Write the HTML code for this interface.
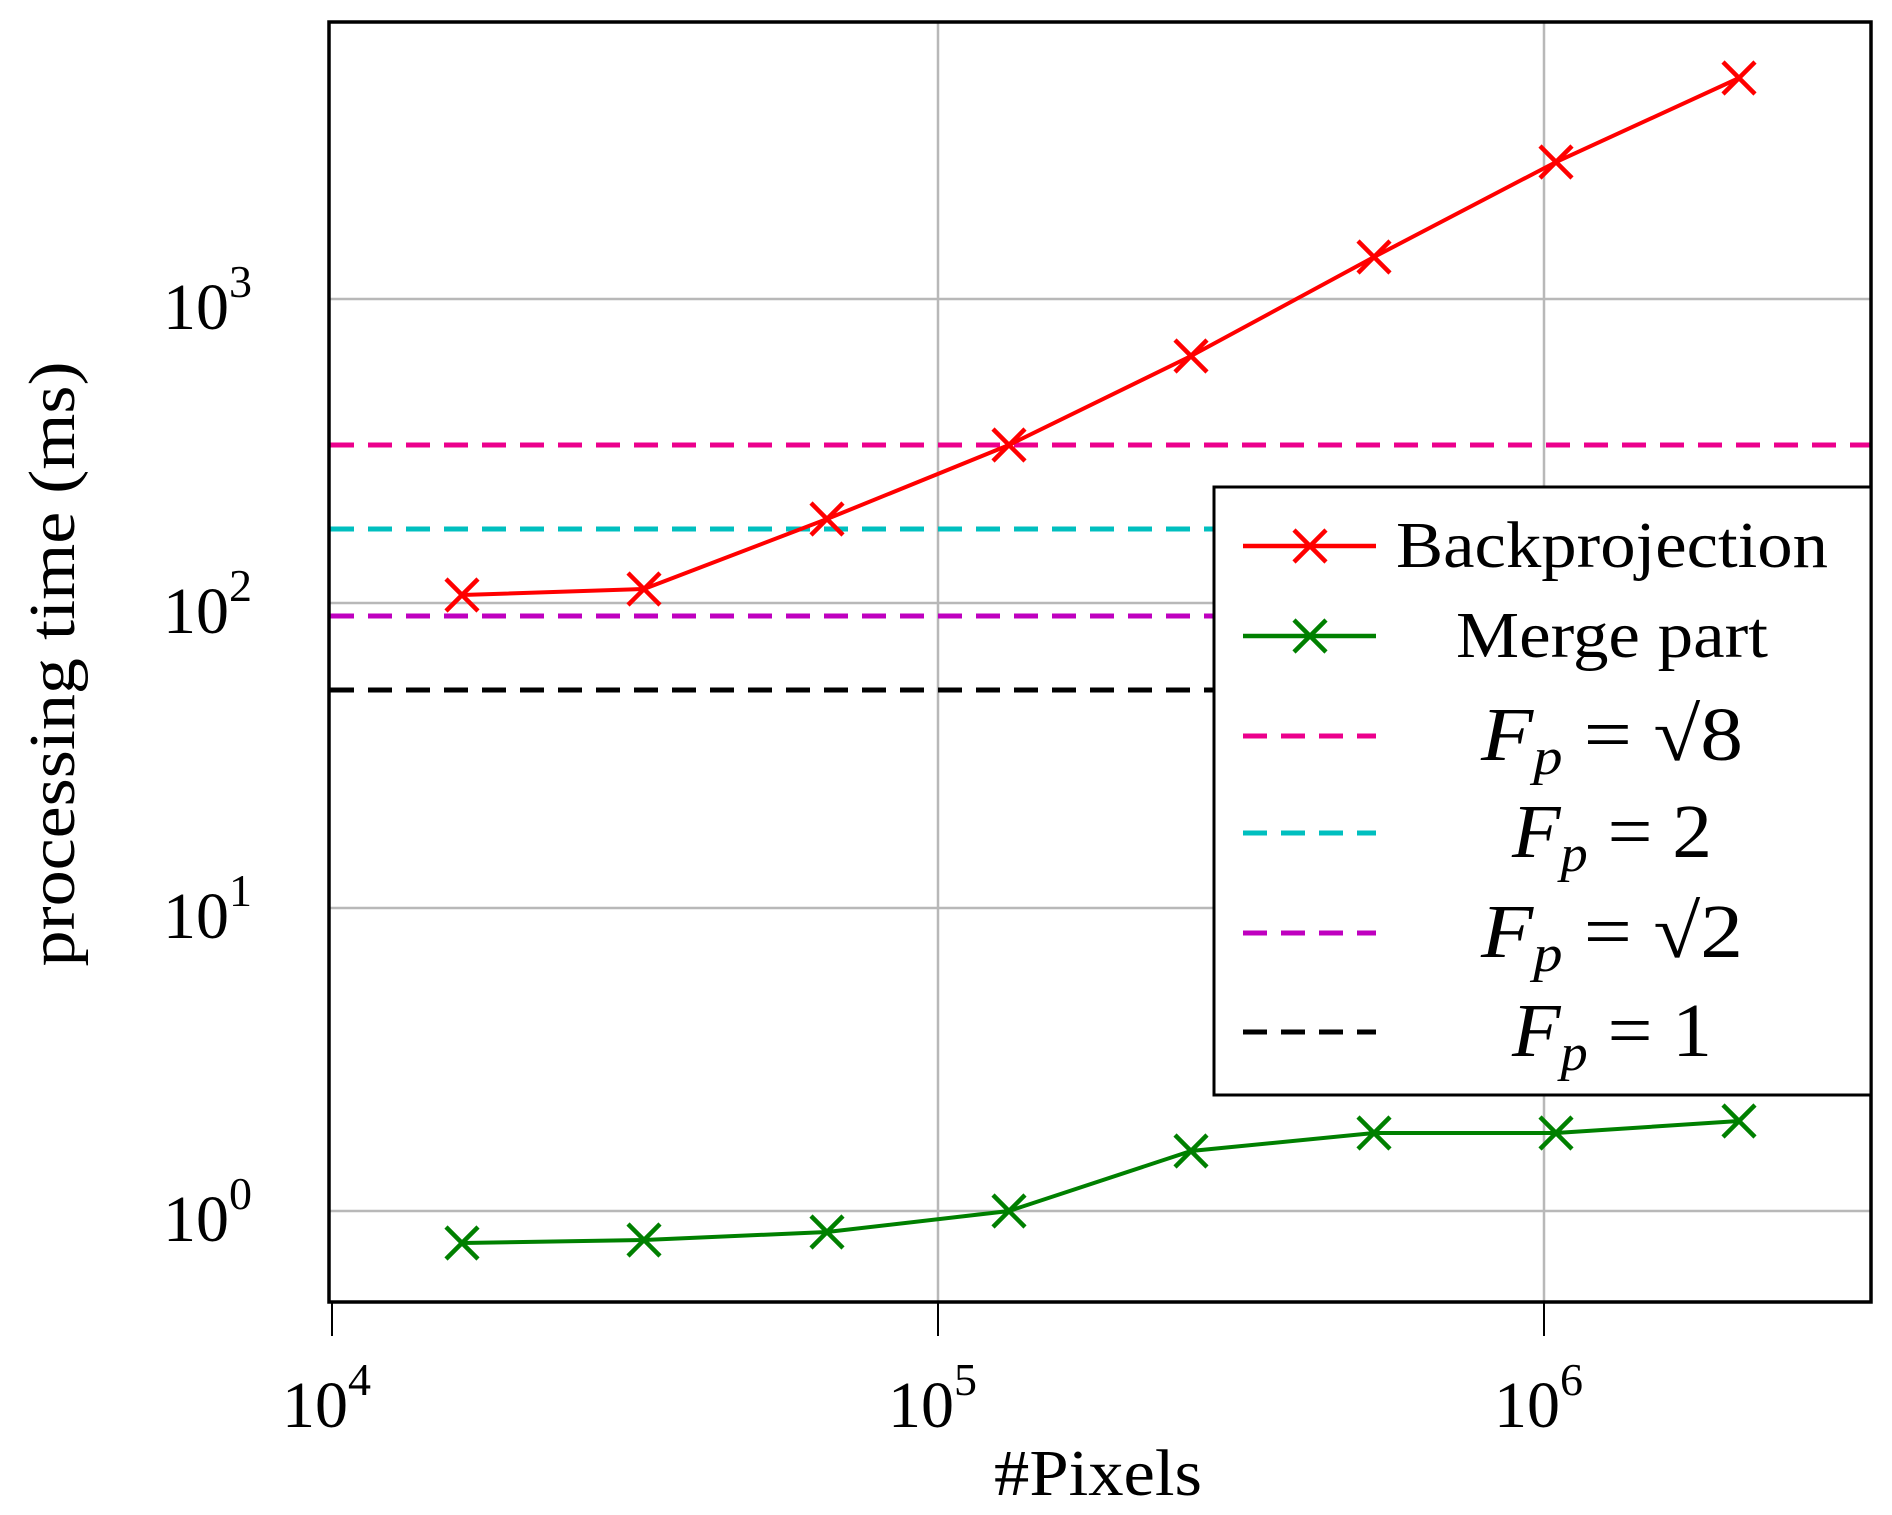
<!DOCTYPE html>
<html><head><meta charset="utf-8"><style>body{margin:0;background:#fff}svg{display:block}</style></head><body>
<svg width="1892" height="1515" xmlns="http://www.w3.org/2000/svg" font-family="Liberation Serif, serif">
<rect width="1892" height="1515" fill="#fff"/>
<g stroke="#b8b8b8" stroke-width="2.5">
<line x1="938" y1="22" x2="938" y2="1302"/><line x1="1544" y1="22" x2="1544" y2="1302"/>
<line x1="328" y1="299" x2="1871" y2="299"/><line x1="328" y1="603" x2="1871" y2="603"/>
<line x1="328" y1="908" x2="1871" y2="908"/><line x1="328" y1="1211" x2="1871" y2="1211"/>
</g>
<g stroke-width="5" stroke-dasharray="24,14" fill="none">
<line x1="330" y1="445" x2="1871" y2="445" stroke="#ec008c"/>
<line x1="330" y1="529" x2="1871" y2="529" stroke="#00bfbf"/>
<line x1="330" y1="616" x2="1871" y2="616" stroke="#bf00bf"/>
<line x1="330" y1="690" x2="1871" y2="690" stroke="#000"/>
</g>
<polyline fill="none" stroke="#ff0000" stroke-width="4" points="462,595 644,589 827,519 1009,445 1191,356 1374,257 1556,162 1739,78"/>
<polyline fill="none" stroke="#008000" stroke-width="4" points="462,1243 644,1240 827,1232 1009,1211 1191,1151 1374,1133 1556,1133 1739,1121"/>
<g stroke="#ff0000" stroke-width="4.5">
<path d="M446,579l32,32M446,611l32,-32M628,573l32,32M628,605l32,-32M811,503l32,32M811,535l32,-32M993,429l32,32M993,461l32,-32M1175,340l32,32M1175,372l32,-32M1358,241l32,32M1358,273l32,-32M1540,146l32,32M1540,178l32,-32M1723,62l32,32M1723,94l32,-32"/>
</g>
<g stroke="#008000" stroke-width="4.5">
<path d="M446,1227l32,32M446,1259l32,-32M628,1224l32,32M628,1256l32,-32M811,1216l32,32M811,1248l32,-32M993,1195l32,32M993,1227l32,-32M1175,1135l32,32M1175,1167l32,-32M1358,1117l32,32M1358,1149l32,-32M1540,1117l32,32M1540,1149l32,-32M1723,1105l32,32M1723,1137l32,-32"/>
</g>
<rect x="329" y="22" width="1542" height="1280" fill="none" stroke="#000" stroke-width="3.5"/>
<g stroke="#000" stroke-width="2"><line x1="332" y1="1302" x2="332" y2="1336"/><line x1="938" y1="1302" x2="938" y2="1336"/><line x1="1544" y1="1302" x2="1544" y2="1336"/></g>
<g font-size="66" fill="#000">
<text x="282" y="1427">10<tspan font-size="46" dy="-32">4</tspan></text>
<text x="888" y="1427">10<tspan font-size="46" dy="-32">5</tspan></text>
<text x="1494" y="1427">10<tspan font-size="46" dy="-32">6</tspan></text>
<text x="163" y="329">10<tspan font-size="46" dy="-32">3</tspan></text>
<text x="163" y="633">10<tspan font-size="46" dy="-32">2</tspan></text>
<text x="163" y="938">10<tspan font-size="46" dy="-32">1</tspan></text>
<text x="163" y="1241">10<tspan font-size="46" dy="-32">0</tspan></text>
<text x="1098" y="1495" text-anchor="middle" textLength="208" lengthAdjust="spacingAndGlyphs">#Pixels</text>
<text transform="translate(74,664) rotate(-90)" text-anchor="middle" textLength="605" lengthAdjust="spacingAndGlyphs">processing time (ms)</text>
</g>
<rect x="1214" y="487" width="657" height="608" fill="#fff" stroke="#000" stroke-width="3"/>
<g stroke-width="4.5">
<line x1="1243" y1="546" x2="1376" y2="546" stroke="#ff0000"/><path d="M1294,530l32,32M1294,562l32,-32" stroke="#ff0000"/>
<line x1="1243" y1="636" x2="1376" y2="636" stroke="#008000"/><path d="M1294,620l32,32M1294,652l32,-32" stroke="#008000"/>
<g stroke-width="5" stroke-dasharray="24,14"><line x1="1243" y1="736" x2="1376" y2="736" stroke="#ec008c"/>
<line x1="1243" y1="833" x2="1376" y2="833" stroke="#00bfbf"/>
<line x1="1243" y1="933" x2="1376" y2="933" stroke="#bf00bf"/>
<line x1="1243" y1="1032" x2="1376" y2="1032" stroke="#000"/></g>
</g>
<g font-size="66" fill="#000" text-anchor="middle">
<text x="1612" y="567" textLength="432" lengthAdjust="spacingAndGlyphs">Backprojection</text>
<text x="1612" y="657" textLength="312" lengthAdjust="spacingAndGlyphs">Merge part</text>
<g font-size="76">
<text x="1612" y="760" textLength="262" lengthAdjust="spacingAndGlyphs"><tspan font-style="italic">F</tspan><tspan font-style="italic" font-size="52" dy="14">p</tspan><tspan dy="-14"> = √8</tspan></text>
<text x="1612" y="857" textLength="200" lengthAdjust="spacingAndGlyphs"><tspan font-style="italic">F</tspan><tspan font-style="italic" font-size="52" dy="14">p</tspan><tspan dy="-14"> = 2</tspan></text>
<text x="1612" y="957" textLength="262" lengthAdjust="spacingAndGlyphs"><tspan font-style="italic">F</tspan><tspan font-style="italic" font-size="52" dy="14">p</tspan><tspan dy="-14"> = √2</tspan></text>
<text x="1612" y="1056" textLength="200" lengthAdjust="spacingAndGlyphs"><tspan font-style="italic">F</tspan><tspan font-style="italic" font-size="52" dy="14">p</tspan><tspan dy="-14"> = 1</tspan></text>
</g>
</g>
</svg>
</body></html>
